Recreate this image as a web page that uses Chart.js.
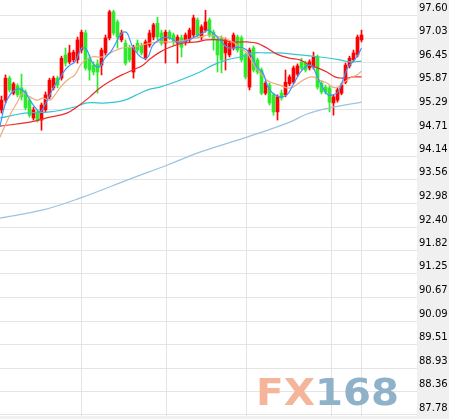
<!DOCTYPE html>
<html>
<head>
<meta charset="utf-8">
<script src="https://cdn.jsdelivr.net/npm/chart.js@4/dist/chart.umd.min.js"></script>
<style>
html, body { margin: 0; padding: 0; background: #fff; }
</style>
</head>
<body>
<canvas id="chart" width="449" height="419"></canvas>
<script>
// right axis labels
var yTicks = [97.60, 97.03, 96.45, 95.87, 95.29, 94.71, 94.14, 93.56, 92.98,
              92.40, 91.82, 91.25, 90.67, 90.09, 89.51, 88.93, 88.36, 87.78];

// daily candles, oldest first
var opens = [95.28,95.52,96.06,95.69,95.87,95.82,95.72,95.52,95.08,95.23,
             95.03,95.28,95.60,95.82,96.06,96.06,96.63,96.46,96.51,96.51,
             96.75,97.17,96.55,96.38,96.41,96.38,96.68,97.05,97.69,97.44,
             97.00,96.92,96.82,96.21,96.92,96.87,96.55,96.87,97.07,97.41,
             97.17,96.92,97.19,97.12,96.92,97.05,96.95,97.00,97.12,97.49,
             97.07,97.24,97.49,97.19,97.00,97.05,96.68,96.63,96.80,97.07,
             97.05,96.63,95.84,96.80,96.51,96.26,95.69,95.89,95.65,95.23,
             95.69,95.65,95.92,95.96,96.16,96.46,96.43,96.31,96.33,96.58,
             95.94,95.84,95.82,95.45,95.52,95.69,95.96,96.36,96.51,96.63,
             97.00];
var highs = [95.62,96.14,96.11,95.96,95.92,96.16,95.77,95.57,95.35,95.28,
             95.45,95.72,96.06,96.11,96.11,96.60,96.80,96.87,96.75,97.07,
             97.24,97.24,96.63,96.46,96.51,96.80,97.12,97.73,97.73,97.49,
             97.24,97.00,96.87,96.87,97.00,96.92,97.00,97.24,97.41,97.56,
             97.24,97.24,97.24,97.17,97.12,97.12,97.17,97.29,97.61,97.54,
             97.37,97.73,97.54,97.24,97.05,97.10,97.05,96.97,97.17,97.12,
             97.10,96.68,96.80,96.85,96.55,96.31,95.99,95.94,95.69,95.65,
             95.77,96.26,96.14,96.36,96.41,96.55,96.48,96.51,96.70,96.63,
             95.99,95.89,95.87,95.65,95.82,95.94,96.43,96.60,96.75,97.12,
             97.24];
var lows = [95.20,95.45,95.72,95.65,95.60,95.52,95.28,95.10,95.03,94.98,
            94.78,95.23,95.55,95.77,95.82,96.01,96.36,96.41,96.46,96.43,
            96.68,96.26,96.01,96.14,95.69,96.14,96.63,97.00,97.12,96.80,
            96.95,96.38,96.46,96.06,96.70,96.63,96.51,96.82,97.00,97.00,
            96.87,96.43,97.00,96.87,96.43,96.58,96.87,96.95,97.07,97.05,
            97.00,97.19,97.07,96.75,96.21,96.19,96.26,96.58,96.75,96.70,
            96.46,96.04,95.77,96.21,96.16,95.65,95.65,95.40,95.15,95.03,
            95.52,95.60,95.87,95.92,96.11,96.26,96.21,96.26,96.28,95.79,
            95.67,95.67,95.23,95.15,95.47,95.65,95.92,96.31,96.46,96.58,
            96.95];
var closes = [95.52,96.06,95.77,95.92,95.65,95.60,95.33,95.15,95.28,95.03,
              95.40,95.65,96.01,96.06,95.89,96.55,96.43,96.68,96.70,97.00,
              97.19,96.31,96.26,96.21,96.21,96.75,97.05,97.69,97.17,97.07,
              97.17,96.43,96.51,96.82,96.75,96.68,96.95,97.17,97.37,97.07,
              96.92,97.19,97.05,96.95,97.07,96.82,97.12,97.24,97.54,97.12,
              97.32,97.44,97.12,97.00,96.63,96.51,97.00,96.92,97.12,96.75,
              96.51,96.09,96.75,96.26,96.21,95.69,95.94,95.45,95.23,95.60,
              95.57,95.96,96.09,96.31,96.36,96.31,96.26,96.46,96.58,95.84,
              95.72,95.72,95.47,95.60,95.77,95.89,96.38,96.55,96.68,97.07,
              97.12];

// moving averages: [candle position, value]
var ma5 = [[-0.4,94.86],[0.85,95.40],[2.1,95.65],[3.35,95.77],[4.6,95.79],[5.85,95.72],
           [7.1,95.52],[8.35,95.35],[9.6,95.23],[10.85,95.40],[12.1,95.65],[13.35,95.89],
           [14.6,96.06],[15.85,96.26],[17.1,96.38],[18.35,96.46],[20.1,96.80],[21.35,96.75],
           [22.6,96.46],[24.35,96.33],[25.85,96.55],[27.6,96.75],[30.1,97.17],[31.35,97.17],
           [32.6,96.87],[33.85,96.68],[35.35,96.55],[36.6,96.58],[37.85,96.87],[40.35,97.05],
           [42.1,97.05],[43.85,96.95],[45.35,96.95],[47.85,97.05],[50.35,97.17],[51.6,97.24],
           [52.85,97.17],[54.6,97.00],[56.35,96.82],[57.85,96.80],[59.6,96.82],[61.35,96.75],
           [62.85,96.55],[63.85,96.33],[65.35,96.19],[66.6,95.84],[67.85,95.69],[69.6,95.60],
           [71.35,95.65],[72.85,95.89],[74.6,96.19],[75.85,96.33],[77.1,96.38],[77.85,96.33],
           [79.1,96.06],[80.35,95.82],[81.6,95.65],[82.85,95.65],[84.1,95.72],[85.35,96.01],
           [86.6,96.33],[87.85,96.46],[89.1,96.63],[90,96.80]];
var ma10 = [[-0.4,94.61],[2.1,95.15],[3.85,95.45],[5.35,95.69],[7.1,95.60],[8.85,95.52],
            [10.35,95.57],[12.1,95.52],[13.35,95.65],[14.6,95.82],[15.85,95.96],[17.1,96.06],
            [18.35,96.14],[20.1,96.43],[22.6,96.58],[25.1,96.58],[27.6,96.70],[30.1,96.80],
            [32.6,96.82],[35.1,96.87],[37.1,96.92],[39.6,96.95],[42.85,96.95],[46.35,97.00],
            [49.6,97.07],[52.1,97.12],[55.35,97.05],[57.85,96.95],[59.6,96.82],[61.35,96.68],
            [62.85,96.43],[64.6,96.19],[66.35,96.01],[67.85,95.94],[69.6,95.89],[71.35,95.82],
            [72.85,95.84],[74.6,95.96],[76.35,96.06],[77.85,96.09],[79.6,96.01],[81.35,95.94],
            [82.85,95.84],[84.1,95.84],[85.35,95.94],[87.1,96.06],[88.85,96.14],[90,96.23]];
var ma20 = [[-0.4,94.88],[7.1,94.98],[12.1,95.10],[16.35,95.20],[18.85,95.35],[22.1,95.60],
            [24.6,95.82],[27.6,96.01],[30.1,96.14],[32.85,96.26],[35.35,96.38],[37.1,96.53],
            [39.6,96.70],[42.1,96.82],[45.35,96.92],[48.85,96.95],[51.35,97.00],[54.6,97.00],
            [57.85,96.95],[61.35,96.95],[63.85,96.92],[66.35,96.80],[68.85,96.65],[72.1,96.55],
            [74.6,96.51],[77.1,96.38],[79.1,96.31],[81.35,96.21],[83.35,96.09],[85.1,96.06],
            [86.35,96.06],[87.85,96.09],[90,96.09]];
var ma30 = [[-0.4,95.08],[5.85,95.20],[12.1,95.23],[18.35,95.35],[21.35,95.45],[26.35,95.45],
            [30.85,95.52],[34.6,95.69],[37.1,95.79],[39.6,95.84],[44.6,96.01],[49.6,96.21],
            [52.85,96.38],[56.35,96.51],[59.6,96.58],[62.85,96.68],[66.35,96.68],[69.6,96.68],
            [74.6,96.63],[79.6,96.58],[84.6,96.51],[87.1,96.46],[90,96.48]];
var ma60 = [[-0.4,92.62],[10.35,92.82],[19.6,93.11],[32.85,93.61],[41.35,93.92],[49.6,94.24],
            [61.35,94.61],[72.1,94.98],[76.35,95.18],[82.1,95.33],[90,95.47]];

// vertical grid lines (candle positions)
var vLines = [20.1, 41.35, 61.35, 82.6, 90.1];

var upColor = '#ff0000', downColor = '#2cea2c';

var bodies = [], wicks = [], colors = [];
for (var i = 0; i < opens.length; i++) {
  bodies.push({x: i, y: [opens[i], closes[i]]});
  wicks.push({x: i, y: [lows[i], highs[i]]});
  colors.push(closes[i] >= opens[i] ? upColor : downColor);
}

function maLine(pts, color) {
  return {
    type: 'line',
    data: pts.map(function (p) { return {x: p[0], y: p[1]}; }),
    borderColor: color,
    borderWidth: 1.2,
    pointRadius: 0,
    tension: 0.4,
    fill: false,
    order: 0
  };
}

// grey axis panel on the right
var panelPlugin = {
  id: 'panel',
  beforeDraw: function (chart) {
    var ctx = chart.ctx, a = chart.chartArea;
    ctx.save();
    ctx.fillStyle = '#ffffff';
    ctx.fillRect(0, 0, chart.width, chart.height);
    ctx.fillStyle = '#f0f0f0';
    ctx.fillRect(a.right, 0, chart.width - a.right, chart.height);
    ctx.fillRect(0, a.bottom, chart.width, chart.height - a.bottom);
    ctx.restore();
  }
};

// FX168 watermark
var markPlugin = {
  id: 'mark',
  beforeDatasetsDraw: function (chart) {
    var ctx = chart.ctx;
    ctx.save();
    ctx.font = 'bold 37px "DejaVu Sans"';
    ctx.textBaseline = 'alphabetic';
    var w1 = ctx.measureText('FX').width;
    var w2 = ctx.measureText('168').width;
    ctx.save();
    ctx.translate(256, 405);
    ctx.scale(59 / w1, 1);
    ctx.fillStyle = '#f4b59b';
    ctx.fillText('FX', 0, 0);
    ctx.restore();
    ctx.translate(315, 405);
    ctx.scale(84 / w2, 1);
    ctx.fillStyle = '#8fb2ca';
    ctx.fillText('168', 0, 0);
    ctx.restore();
  }
};

var ctx = document.getElementById('chart').getContext('2d');
var chart = new Chart(ctx, {
  type: 'bar',
  data: {
    datasets: [
      maLine(ma5, '#3a98ff'),
      maLine(ma10, '#eeaa7c'),
      maLine(ma20, '#ee2a2a'),
      maLine(ma30, '#33c6d2'),
      maLine(ma60, '#9cc4e0'),
      {
        data: bodies,
        backgroundColor: colors,
        barThickness: 3,
        minBarLength: 1,
        grouped: false,
        order: 2
      },
      {
        data: wicks,
        backgroundColor: colors,
        barThickness: 1,
        grouped: false,
        order: 3
      }
    ]
  },
  options: {
    responsive: false,
    animation: false,
    layout: { padding: 0 },
    plugins: {
      legend: { display: false },
      tooltip: { enabled: false }
    },
    scales: {
      x: {
        type: 'linear',
        min: -0.375,
        max: 103.875,
        offset: false,
        afterBuildTicks: function (scale) {
          scale.ticks = vLines.map(function (v) { return {value: v}; });
        },
        afterFit: function (scale) {
          scale.height = 3;
          scale.paddingLeft = 0;
          scale.paddingRight = 0;
        },
        ticks: { display: false },
        grid: { color: '#e4e4e4', lineWidth: 1, drawTicks: false, offset: false },
        border: { display: false }
      },
      y: {
        position: 'right',
        min: 87.755,
        max: 97.981,
        afterBuildTicks: function (scale) {
          scale.ticks = yTicks.map(function (v) { return {value: v}; });
        },
        afterFit: function (scale) {
          scale.width = 32;
          scale.paddingTop = 0;
          scale.paddingBottom = 0;
        },
        ticks: {
          color: '#000',
          padding: 2,
          labelOffset: -7,
          font: { family: '"DejaVu Sans"', size: 10 },
          callback: function (v) { return Number(v).toFixed(2); }
        },
        grid: { color: '#e4e4e4', lineWidth: 1, drawTicks: false },
        border: { display: false }
      }
    }
  },
  plugins: [panelPlugin, markPlugin]
});
</script>
</body>
</html>
